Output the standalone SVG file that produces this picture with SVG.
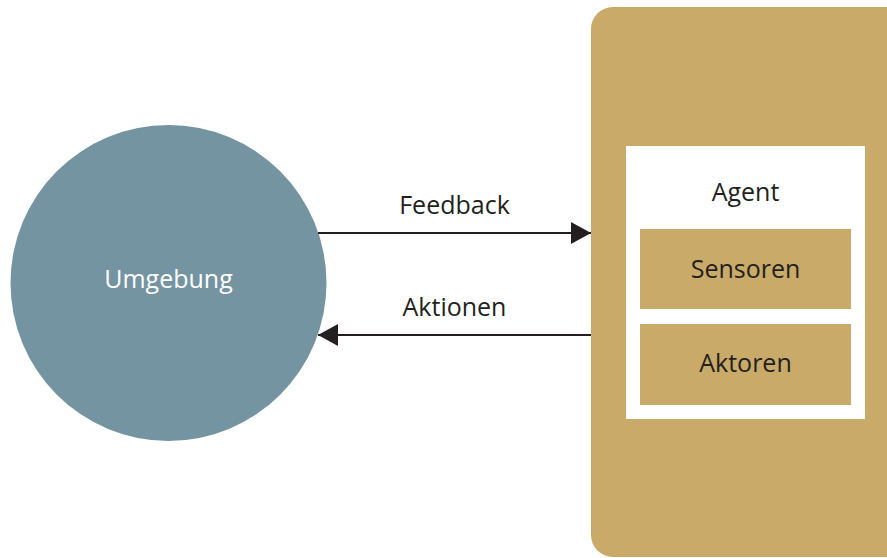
<svg xmlns="http://www.w3.org/2000/svg" width="887" height="558" viewBox="0 0 887 558">
  <style>
    .lbl { font-family: "Open Sans", "Liberation Sans", sans-serif; font-size: 25px; fill: #231f20; text-anchor: middle; }
    .gold { fill: #c9aa68; }
    .edge { stroke: #231f20; stroke-width: 2; fill: none; }
  </style>
  <defs>
    <marker id="arrow" viewBox="0 0 20 22" refX="20" refY="11" markerWidth="20" markerHeight="22" markerUnits="userSpaceOnUse" orient="auto">
      <path d="M0,0 L20,11 L0,22 Z" fill="#231f20"/>
    </marker>
  </defs>

  <rect width="887" height="558" fill="#ffffff"/>

  <g id="umgebung">
    <circle cx="168.5" cy="283" r="158" fill="#7594a2"/>
    <text class="lbl" x="168.5" y="288" style="fill:#ffffff">Umgebung</text>
  </g>

  <g id="agent-panel">
    <rect class="gold" x="591" y="7" width="320" height="550" rx="22" ry="22"/>
    <rect x="626" y="146" width="239" height="273" fill="#ffffff"/>
    <text class="lbl" x="745.5" y="201">Agent</text>
  </g>

  <g id="sensoren">
    <rect class="gold" x="640" y="229" width="211" height="80"/>
    <text class="lbl" x="745.5" y="278">Sensoren</text>
  </g>

  <g id="aktoren">
    <rect class="gold" x="640" y="324" width="211" height="81"/>
    <text class="lbl" x="745.5" y="372">Aktoren</text>
  </g>

  <g id="connectors">
    <line class="edge" x1="318" y1="233" x2="591" y2="233" marker-end="url(#arrow)"/>
    <text class="lbl" x="454.5" y="214">Feedback</text>
    <line class="edge" x1="591" y1="335" x2="318" y2="335" marker-end="url(#arrow)"/>
    <text class="lbl" x="454.5" y="316">Aktionen</text>
  </g>
</svg>
